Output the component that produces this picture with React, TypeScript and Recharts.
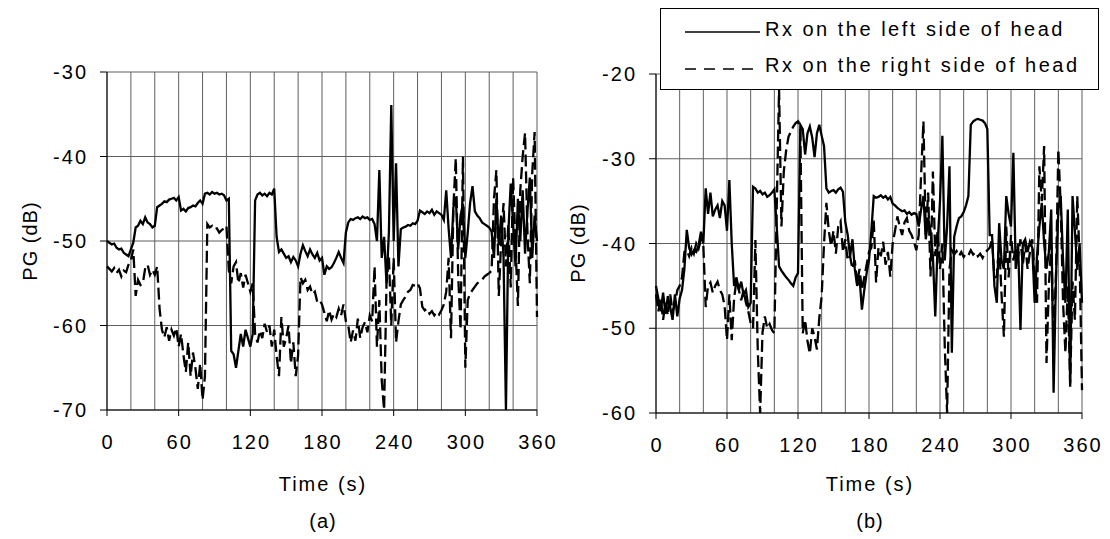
import React from 'react';
import { LineChart, Line, XAxis, YAxis, CartesianGrid } from 'recharts';

// sampled every STEP seconds, 0..360 s
const STEP = 2;

const GRID_TIMES = [0, 20, 40, 60, 80, 100, 120, 140, 160, 180, 200, 220, 240, 260, 280, 300, 320, 340, 360];
const LABEL_TIMES = [0, 60, 120, 180, 240, 300, 360];
const A_TICKS = [-70, -60, -50, -40, -30];
const B_TICKS = [-60, -50, -40, -30, -20];
const SERIES_NAMES = ['Rx on the left side of head', 'Rx on the right side of head'];

// (a) left-side receiver
const aLeft = [
  -50.0, -50.2, -50.4, -50.3, -50.8, -51.0, -50.9, -51.4, -51.6, -51.8,
  -51.0, -50.2, -48.4, -48.2, -47.6, -48.0, -47.2, -47.8, -48.0, -48.4,
  -48.2, -46.0, -45.8, -45.6, -45.3, -45.4, -45.1, -45.0, -44.9, -45.2,
  -44.8, -46.4, -46.2, -46.5, -46.1, -46.0, -45.8, -45.9, -45.5, -45.2,
  -45.6, -44.4, -44.3, -44.5, -44.2, -44.4, -44.3, -44.5, -44.4, -44.6,
  -45.2, -45.0, -63.0, -63.4, -65.0, -63.0, -61.0, -62.5, -60.5, -61.5,
  -62.5, -61.0, -45.2, -44.5, -44.3, -44.6, -44.4, -44.7, -44.3, -44.5,
  -43.8, -49.5, -51.3, -51.0, -51.5, -52.0, -51.8, -52.5, -51.9, -52.3,
  -53.0, -51.5, -50.5, -51.2, -51.8, -51.0, -51.6, -52.0, -51.4, -52.3,
  -52.0, -54.0, -53.0, -53.3, -53.1, -52.6, -52.0, -51.3, -52.0, -52.6,
  -49.0, -47.8, -47.4, -47.5, -47.3, -47.2, -47.4, -47.1, -47.3, -47.2,
  -47.5, -47.4, -48.0, -50.0, -41.6, -52.0, -49.5, -55.0, -49.0, -33.9,
  -50.0, -40.8, -53.0, -48.6, -48.4, -48.3, -48.1, -48.2, -47.9, -48.0,
  -47.6, -46.4, -46.6, -46.8, -46.5, -46.7, -46.3, -46.9, -46.5, -46.7,
  -46.9, -47.5, -44.0, -48.5, -52.0, -46.0, -44.8, -51.0, -47.0, -45.6,
  -52.0, -49.0, -45.5, -43.5, -46.5, -47.0, -47.3, -47.8, -48.0, -48.2,
  -48.4, -48.9, -52.0, -45.0, -50.5, -47.0, -52.0, -70.0, -49.0, -43.2,
  -48.0, -53.0, -45.0, -50.0, -44.0, -51.5, -46.5, -42.5, -52.0, -47.0,
  -50.0,
];

// (a) right-side receiver
const aRight = [
  -53.0, -53.3, -53.6, -53.2, -53.8, -53.4, -54.2, -53.5, -53.7, -52.8,
  -52.3, -51.0, -56.5, -54.6, -55.2, -55.0, -53.2, -52.8, -54.0, -53.4,
  -54.0, -53.0, -58.0, -60.5, -61.4, -60.2, -61.8, -60.5, -61.2, -60.3,
  -62.5, -61.0, -63.5, -65.5, -62.0, -66.0, -63.2, -65.0, -67.5, -64.5,
  -68.8, -66.0, -48.0, -48.4, -48.2, -48.6, -48.5, -49.0, -48.7, -48.5,
  -48.2, -53.5, -55.0, -53.0, -52.5, -55.0, -53.8, -55.5, -54.0, -55.0,
  -56.0, -55.0, -61.0, -62.0, -60.6, -61.5, -59.8, -60.8, -60.0, -62.5,
  -60.5, -63.6, -66.0, -59.0, -62.5, -61.5, -60.0, -64.5, -62.0, -66.0,
  -63.5, -54.3, -55.0, -54.6, -55.8, -55.4, -56.3, -56.0, -57.2, -57.0,
  -57.5, -58.5, -59.5, -58.2, -59.3, -58.6, -59.0, -58.0, -58.8, -57.5,
  -59.5, -60.0, -62.0, -60.6, -61.8, -59.2, -61.5, -60.2, -59.6, -60.8,
  -58.8, -59.5, -53.0, -62.5, -57.0, -66.5, -70.0, -55.0, -51.8, -60.0,
  -52.0, -62.0, -59.5, -57.5, -57.0, -56.6, -56.0, -55.8, -55.2, -55.3,
  -55.0, -55.6, -57.8, -58.2, -58.0, -58.6, -58.3, -58.8, -58.4, -58.7,
  -58.2, -57.5, -56.0, -52.0, -61.5, -46.0, -40.2, -54.0, -60.5, -40.0,
  -65.0, -57.0, -56.2, -55.8, -55.4, -55.0, -54.8, -54.6, -54.2, -54.0,
  -53.8, -53.5, -45.0, -41.6, -56.5, -50.0, -45.5, -53.0, -48.0, -55.5,
  -42.5, -50.5, -57.7, -44.0, -40.0, -37.2, -49.0, -55.0, -42.0, -37.1,
  -59.0,
];

// (b) left-side receiver
const bLeft = [
  -45.0, -46.5, -48.0, -45.8, -48.3, -46.2, -47.5, -49.0, -46.0, -48.6,
  -46.5, -45.5, -43.0, -38.4, -40.5, -41.3, -40.8, -41.0, -40.2, -38.6,
  -40.0, -33.5, -36.5, -34.0, -36.8, -36.0, -35.5, -37.0, -35.0, -35.5,
  -38.5, -32.5, -40.0, -45.0, -44.0, -45.5, -44.5, -46.0, -45.5, -47.5,
  -47.0, -33.3, -33.5, -34.0, -33.8, -34.2, -34.0, -34.5, -34.3, -34.0,
  -33.6, -38.0, -42.7, -43.2, -43.6, -44.0, -44.3, -44.7, -45.0, -44.0,
  -43.5, -26.0, -26.5, -29.5, -27.0, -26.2, -27.5, -29.8, -27.0, -26.0,
  -27.3, -28.5, -33.5, -34.0, -33.8, -33.7, -34.0, -33.6, -33.4, -33.9,
  -37.5, -39.0, -41.5, -39.5, -43.0, -45.0, -44.0, -47.8, -45.5, -43.5,
  -42.0, -38.5, -34.4, -34.6, -34.5, -34.3, -34.6, -34.4, -34.8, -34.5,
  -35.3, -35.5, -35.8, -36.0, -36.2, -36.1, -36.5, -36.3, -36.6, -36.4,
  -36.5, -38.0, -36.0, -34.4, -39.5, -37.0, -38.5, -41.5, -48.6, -40.0,
  -35.0, -27.3, -42.0, -38.0, -30.9, -52.9, -39.2, -38.0, -37.0, -36.8,
  -36.3, -35.5, -34.4, -26.0, -25.6, -25.4, -25.3, -25.4, -25.5, -25.8,
  -26.5, -39.0, -39.0, -45.0, -47.0, -37.6, -42.0, -43.0, -34.4, -36.5,
  -38.0, -29.3, -43.0, -40.0, -50.2, -40.0, -39.5, -41.0, -39.8, -40.5,
  -47.0, -41.5, -38.0, -35.2, -40.0, -43.0, -41.0, -36.0, -57.6, -44.0,
  -36.0, -34.4, -42.0, -47.0, -36.0, -56.9, -34.4, -38.5, -43.1, -40.0,
  -47.0,
];

// (b) right-side receiver
const bRight = [
  -46.0, -48.0, -46.5, -49.0, -47.0, -48.5, -46.0, -48.0, -47.2, -45.5,
  -45.0, -44.0, -41.0, -40.8, -41.5, -40.5, -41.2, -40.0, -40.6, -39.5,
  -40.2, -47.5, -45.0, -44.6, -45.8, -45.0, -44.5, -45.5, -46.0, -47.4,
  -51.4, -46.0, -51.4, -46.5, -44.3, -45.5, -46.7, -45.5, -47.0, -48.0,
  -49.4, -50.0, -39.6, -52.6, -60.0, -50.5, -48.6, -50.0, -49.5, -50.2,
  -50.6, -36.0, -21.8, -38.0, -31.5, -29.0, -27.4, -26.8, -26.2, -25.8,
  -25.6, -26.5, -50.6, -49.0, -51.5, -53.0, -50.0, -51.0, -52.5, -48.8,
  -46.2, -40.0, -35.2, -38.5, -40.3, -38.5, -41.2, -38.0, -37.4, -41.0,
  -39.5, -42.0, -41.5, -43.0, -42.0, -44.7, -43.0, -45.5, -44.0, -42.5,
  -41.0, -40.5, -37.3, -44.6, -40.5, -41.5, -39.8, -42.5, -41.0, -43.9,
  -40.0, -38.5, -36.8, -38.0, -39.0, -37.5, -37.0, -38.5, -39.0, -39.8,
  -40.8, -39.0, -32.0, -25.6, -39.0, -34.0, -43.9, -31.5, -41.5, -38.5,
  -43.0, -40.0, -52.0, -60.0, -43.0, -40.8, -41.3, -40.9, -41.5, -41.0,
  -41.6, -41.2, -41.4, -40.8, -41.3, -41.0, -41.5, -41.2, -41.7, -41.1,
  -40.8, -40.5, -39.5, -44.0, -43.9, -40.0, -46.0, -51.0, -38.0, -44.0,
  -39.0, -42.0, -40.5, -41.5, -39.5, -42.5, -40.0, -43.0, -41.0, -39.5,
  -44.0, -47.0, -30.9, -35.0, -28.5, -54.1, -45.0, -40.0, -51.0, -44.0,
  -28.9, -35.5, -47.0, -52.9, -45.0, -56.5, -44.5, -49.0, -34.4, -42.0,
  -57.3,
];

const toRows = (left: number[], right: number[]) =>
  left.map((v, i) => ({ t: i * STEP, left: v, right: right[i] }));

const dataA = toRows(aLeft, aRight);
const dataB = toRows(bLeft, bRight);

const FONT = "'Liberation Sans', Arial, sans-serif";
const tickFont = { fontFamily: FONT, fontSize: 20, letterSpacing: 2, fill: '#000' };

const X_TICK_SIZE = 6;
const X_TICK_MARGIN = 19;

const TimeTick = (props: any) => {
  const { x, y, payload } = props;
  if (!LABEL_TIMES.includes(payload.value)) return <g />;
  return (
    <g>
      <line x1={x} x2={x} y1={y - X_TICK_MARGIN - X_TICK_SIZE} y2={y - X_TICK_MARGIN} stroke="#000" />
      <text x={x} y={y} dx={1} dy="0.71em" textAnchor="middle" style={tickFont}>
        {payload.value}
      </text>
    </g>
  );
};

type PanelProps = {
  data: { t: number; left: number; right: number }[];
  yTicks: number[];
  width: number;
  margin: { top: number; right: number; bottom: number; left: number };
};

const Panel = ({ data, yTicks, width, margin }: PanelProps) => (
  <LineChart width={width} height={539} data={data} margin={margin}>
    <CartesianGrid stroke="#5f5f5f" strokeWidth={1} />
    <XAxis
      dataKey="t"
      type="number"
      domain={[0, 360]}
      ticks={GRID_TIMES}
      interval={0}
      height={40}
      tickLine={false}
      tickSize={X_TICK_SIZE}
      tickMargin={X_TICK_MARGIN}
      tick={<TimeTick />}
      axisLine={{ stroke: '#000' }}
    />
    <YAxis
      type="number"
      domain={[yTicks[0], yTicks[yTicks.length - 1]]}
      ticks={yTicks}
      interval={0}
      allowDataOverflow
      width={60}
      tickSize={7}
      tickMargin={12}
      tick={tickFont}
      tickLine={{ stroke: '#000' }}
      axisLine={{ stroke: '#000' }}
    />
    <Line
      dataKey="left"
      name={SERIES_NAMES[0]}
      type="linear"
      stroke="#000"
      strokeWidth={2.3}
      dot={false}
      isAnimationActive={false}
    />
    <Line
      dataKey="right"
      name={SERIES_NAMES[1]}
      type="linear"
      stroke="#000"
      strokeWidth={2.3}
      strokeDasharray="12 5"
      dot={false}
      isAnimationActive={false}
    />
  </LineChart>
);

const textStyle = { fontFamily: FONT, fontSize: 20, fill: '#000' };

export default function App() {
  return (
    <div style={{ position: 'absolute', left: 0, top: 0, width: 1110, height: 539, background: '#fff' }}>
      <div style={{ position: 'absolute', left: 0, top: 0 }}>
        <Panel data={dataA} yTicks={A_TICKS} width={560} margin={{ top: 72, right: 23, bottom: 89, left: 47 }} />
      </div>
      <div style={{ position: 'absolute', left: 560, top: 0 }}>
        <Panel data={dataB} yTicks={B_TICKS} width={550} margin={{ top: 74, right: 28, bottom: 86, left: 36 }} />
      </div>
      <svg
        width={1110}
        height={539}
        style={{ position: 'absolute', left: 0, top: 0, pointerEvents: 'none' }}
      >
        <text transform="translate(37,241) rotate(-90)" textAnchor="middle" style={{ ...textStyle, letterSpacing: 1 }}>
          PG (dB)
        </text>
        <text transform="translate(585,243) rotate(-90)" textAnchor="middle" style={{ ...textStyle, letterSpacing: 1 }}>
          PG (dB)
        </text>
        <text x={323} y={491} textAnchor="middle" style={{ ...textStyle, letterSpacing: 2 }}>Time (s)</text>
        <text x={870} y={491} textAnchor="middle" style={{ ...textStyle, letterSpacing: 2 }}>Time (s)</text>
        <text x={323} y={528} textAnchor="middle" style={{ ...textStyle, letterSpacing: 1 }}>(a)</text>
        <text x={870} y={528} textAnchor="middle" style={{ ...textStyle, letterSpacing: 1 }}>(b)</text>

        <rect x={660.5} y={8.5} width={438} height={81} fill="#fff" stroke="#000" strokeWidth={1} />
        <line x1={685} x2={760} y1={32} y2={32} stroke="#000" strokeWidth={1.5} />
        <line x1={685} x2={760} y1={69} y2={69} stroke="#000" strokeWidth={1.5} strokeDasharray="11 8" />
        <text x={765} y={35.5} style={{ ...textStyle, letterSpacing: 2.5 }}>{SERIES_NAMES[0]}</text>
        <text x={765} y={72} style={{ ...textStyle, letterSpacing: 2.5 }}>{SERIES_NAMES[1]}</text>
      </svg>
    </div>
  );
}
